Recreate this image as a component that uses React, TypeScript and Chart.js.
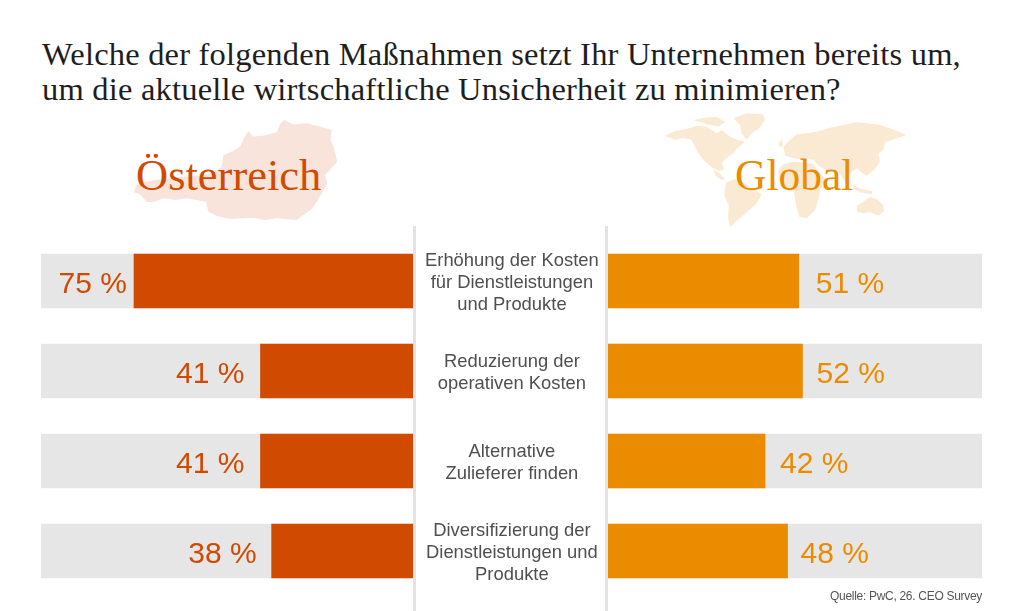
import React, { useEffect, useRef } from "react";
import { Chart, registerables } from "chart.js";

Chart.register(...registerables);

const titleLines = [
  "Welche der folgenden Maßnahmen setzt Ihr Unternehmen bereits um,",
  "um die aktuelle wirtschaftliche Unsicherheit zu minimieren?",
];
const categories = [
  ["Erhöhung der Kosten", "für Dienstleistungen", "und Produkte"],
  ["Reduzierung der", "operativen Kosten"],
  ["Alternative", "Zulieferer finden"],
  ["Diversifizierung der", "Dienstleistungen und", "Produkte"],
];
const austriaValues = [75, 41, 41, 38];
const globalValues = [51, 52, 42, 48];
const trackValues = [100, 100, 100, 100];
const austriaLabel = "Österreich";
const globalLabel = "Global";
const sourceLabel = "Quelle: PwC, 26. CEO Survey";

const ORANGE = "#D04A02";
const AMBER = "#EB8C00";
const TRACK = "#E6E6E6";
const SANS = '"Liberation Sans", Arial, sans-serif';
const SERIF = '"Liberation Serif", serif';

const austriaGaps = [7, 16, 16, 15];
const globalGaps = [17, 14, 15, 13];

function valueLabels(color: string, side: "left" | "right", gaps: number[]) {
  return {
    id: "valueLabels",
    afterDatasetsDraw(chart: any) {
      const { ctx } = chart;
      const meta = chart.getDatasetMeta(0);
      ctx.save();
      ctx.font = `30px ${SANS}`;
      ctx.fillStyle = color;
      ctx.textBaseline = "middle";
      ctx.textAlign = side === "left" ? "right" : "left";
      meta.data.forEach((bar: any, i: number) => {
        const v = chart.data.datasets[0].data[i];
        const x = side === "left" ? bar.x - gaps[i] : bar.x + gaps[i];
        ctx.fillText(`${v} %`, x, bar.y + 4);
      });
      ctx.restore();
    },
  };
}

function makeChart(
  canvas: HTMLCanvasElement,
  values: number[],
  color: string,
  side: "left" | "right",
  gaps: number[],
) {
  const yAxis =
    side === "left"
      ? {
          display: true,
          position: "right",
          afterFit: (s: any) => {
            s.width = 192;
            s.paddingTop = 0;
            s.paddingBottom = 0;
          },
          grid: { display: false },
          border: { display: false },
          ticks: {
            crossAlign: "center",
            padding: 4,
            labelOffset: 2,
            color: "#4F4F4F",
            autoSkip: false,
            font: { family: SANS, size: 18.4, lineHeight: "22px" },
          },
        }
      : { display: false };
  return new Chart(canvas, {
    type: "bar",
    data: {
      labels: categories as any,
      datasets: [
        { data: values, backgroundColor: color, barThickness: 54, order: 0 },
        { data: trackValues, backgroundColor: TRACK, barThickness: 54, order: 1 },
      ],
    },
    options: {
      indexAxis: "y",
      animation: false,
      responsive: false,
      maintainAspectRatio: false,
      layout: { padding: 0 },
      datasets: { bar: { grouped: false } },
      plugins: { legend: { display: false }, tooltip: { enabled: false } },
      scales: {
        x: { display: false, min: 0, max: 100, reverse: side === "left" },
        y: yAxis,
      },
    },
    plugins: [valueLabels(color, side, gaps)],
  } as any);
}

const abs = (style: React.CSSProperties): React.CSSProperties => ({
  position: "absolute",
  whiteSpace: "nowrap",
  ...style,
});

export default function App() {
  const leftRef = useRef<HTMLCanvasElement>(null);
  const rightRef = useRef<HTMLCanvasElement>(null);

  useEffect(() => {
    const a = makeChart(leftRef.current!, austriaValues, ORANGE, "left", austriaGaps);
    const b = makeChart(rightRef.current!, globalValues, AMBER, "right", globalGaps);
    return () => {
      a.destroy();
      b.destroy();
    };
  }, []);

  return (
    <div style={abs({ left: 0, top: 0, width: 1024, height: 611, overflow: "hidden", background: "#fff" })}>
      {titleLines.map((line, i) => (
        <div
          key={i}
          style={abs({
            left: 42,
            top: 37 + i * 35,
            fontFamily: SERIF,
            fontSize: 32.5,
            lineHeight: "35px",
            color: "#1E1E1E",
            letterSpacing: "0.2px",
          })}
        >
          {line}
        </div>
      ))}

      <svg style={abs({ left: 120, top: 105 })} width={240} height={120} viewBox="0 0 720 360">
        <polygon
          fill="#F8E4DA"
          points="42,262 48,240 70,232 100,225 140,222 180,215 240,212 285,200 305,185 310,150 335,140 360,125 372,100 385,78 400,95 430,92 470,82 482,55 492,45 520,58 560,55 590,62 635,75 632,105 642,130 652,170 630,195 615,210 622,235 605,265 590,290 575,312 530,345 470,340 435,345 400,338 330,342 290,332 265,320 258,290 200,280 165,285 130,280 100,292 80,290 60,268"
        />
      </svg>
      <svg style={abs({ left: 650, top: 105 })} width={270} height={125} viewBox="0 0 810 375">
        <g fill="#FBEAD3">
          <polygon points="250,40 290,25 340,28 345,45 328,70 305,85 290,105 275,85 270,60" />
          <polygon points="45,92 75,78 110,72 140,62 170,65 200,85 215,75 240,95 265,105 285,110 262,130 250,145 228,160 215,175 222,195 205,198 188,188 165,170 145,145 135,125 125,105 100,98 75,105" />
          <polygon points="130,45 165,38 200,35 225,50 205,65 170,58" />
          <polygon points="188,192 208,205 225,222 215,225 198,212" />
          <polygon points="228,232 255,222 280,232 305,250 335,268 320,295 298,315 275,335 255,352 240,368 234,335 236,300 222,268" />
          <polygon points="400,125 420,105 440,88 470,85 500,80 540,68 580,60 620,52 650,55 690,60 720,70 770,90 745,98 725,105 705,112 700,135 685,145 690,170 672,195 650,212 632,200 620,190 600,205 590,238 575,215 560,190 530,195 510,185 490,165 470,160 450,162 430,160 405,152" />
          <polygon points="385,195 400,178 425,170 455,172 490,178 505,200 530,225 512,250 505,285 495,315 470,340 448,335 440,310 432,260 400,252 388,225" />
          <polygon points="620,302 640,290 660,275 680,282 700,300 702,318 685,332 660,322 640,325 622,322" />
          <polygon points="608,240 635,252 668,258 665,268 630,262 612,252" />
          <polygon points="385,118 395,100 400,120 392,128" />
        </g>
      </svg>

      <div style={abs({ left: 136, top: 150, fontFamily: SERIF, fontSize: 44.5, lineHeight: "50px", color: ORANGE })}>
        {austriaLabel}
      </div>
      <div style={abs({ left: 735, top: 150, fontFamily: SERIF, fontSize: 43.5, lineHeight: "50px", color: AMBER })}>
        {globalLabel}
      </div>

      <div style={abs({ left: 413, top: 226, width: 3, height: 385, background: "#E3E3E3" })} />
      <div style={abs({ left: 605, top: 226, width: 3, height: 385, background: "#E3E3E3" })} />

      <canvas ref={leftRef} width={564} height={360} style={abs({ left: 41, top: 236, display: "block" })} />
      <canvas ref={rightRef} width={374} height={360} style={abs({ left: 608, top: 236, display: "block" })} />

      <div style={abs({ right: 42, top: 589, fontFamily: SANS, fontSize: 12, lineHeight: "14px", color: "#555", letterSpacing: "-0.3px" })}>
        {sourceLabel}
      </div>
    </div>
  );
}
